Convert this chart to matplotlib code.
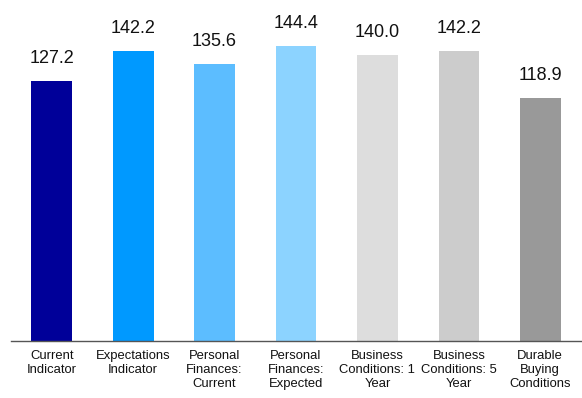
import matplotlib.pyplot as plt

plt.rcParams['font.family'] = ['Liberation Sans', 'DejaVu Sans']

# dados
categorias = ['Current\nIndicator', 'Expectations\nIndicator', 'Personal\nFinances:\nCurrent',
              'Personal\nFinances:\nExpected', 'Business\nConditions: 1\nYear',
              'Business\nConditions: 5\nYear', 'Durable\nBuying\nConditions']
valores = [127.2, 142.2, 135.6, 144.4, 140.0, 142.2, 118.9]
cores = ['#000099', '#0099FF', '#5CBDFF', '#8CD3FF', '#DDDDDD', '#CCCCCC', '#999999']

fig = plt.figure(figsize=(5.82, 3.98), dpi=100)
ax = fig.add_axes([11 / 582, 57.5 / 398, 570 / 582, 340.5 / 398])

x = range(len(valores))
ax.bar(x, valores, width=0.5, color=cores)

# rótulos de valor
for i, v in enumerate(valores):
    ax.text(i, v + 7, f'{v:.1f}', ha='center', va='bottom', fontsize=13, color='#111111')

ax.set_xlim(-0.5, len(valores) - 0.5)
ax.set_ylim(0, 167.2)
ax.set_xticks(list(x))
ax.set_xticklabels(categorias, fontsize=9.4, linespacing=1.22, color='#111111')
ax.tick_params(axis='x', length=0, pad=7)
ax.set_yticks([])

for s in ['top', 'right', 'left']:
    ax.spines[s].set_visible(False)
ax.spines['bottom'].set_color('#555555')
ax.spines['bottom'].set_linewidth(1)

fig.savefig('out.png', dpi=100)
